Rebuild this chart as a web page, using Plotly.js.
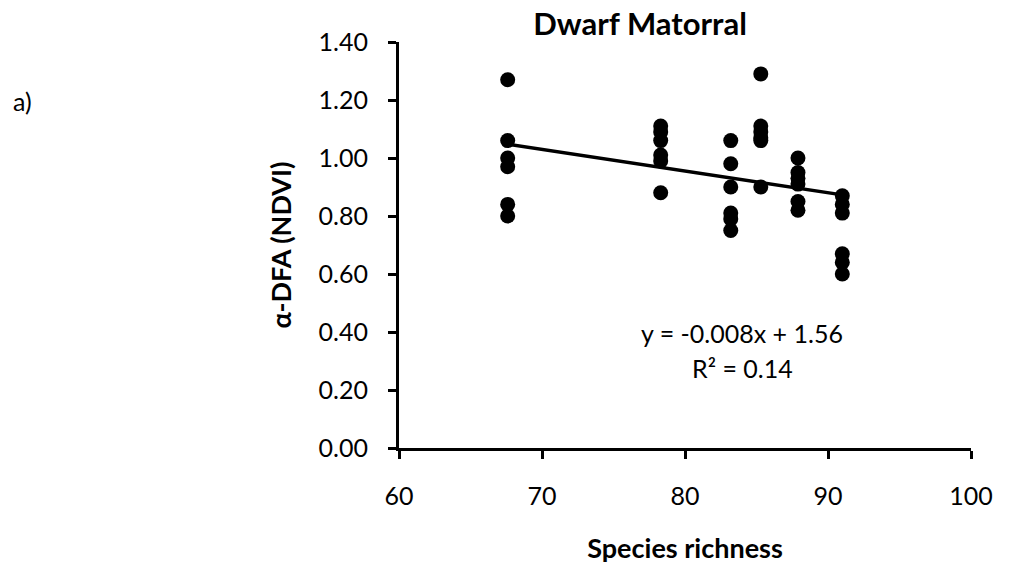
<!DOCTYPE html>
<html>
<head>
<meta charset="utf-8">
<script src="https://cdn.plot.ly/plotly-3.0.1.min.js"></script>
<style>html,body{margin:0;padding:0;background:#fff;}#chart{width:1016px;height:565px;}</style>
</head>
<body>
<div id="chart"></div>
<script>
// Species richness (x) for each plot
const richness = [
  67.6, 67.6, 67.6, 67.6, 67.6, 67.6,
  78.3, 78.3, 78.3, 78.3, 78.3, 78.3,
  83.2, 83.2, 83.2, 83.2, 83.2, 83.2,
  85.3, 85.3, 85.3, 85.3, 85.3, 85.3,
  87.9, 87.9, 87.9, 87.9, 87.9, 87.9,
  91.0, 91.0, 91.0, 91.0, 91.0, 91.0
];
// alpha-DFA (NDVI) values
const alphaDFA = [
  1.27, 1.06, 1.00, 0.97, 0.84, 0.80,
  1.11, 1.09, 1.06, 1.01, 0.99, 0.88,
  1.06, 0.98, 0.90, 0.81, 0.79, 0.75,
  1.29, 1.11, 1.09, 1.07, 1.06, 0.90,
  1.00, 0.95, 0.93, 0.91, 0.85, 0.82,
  0.87, 0.84, 0.81, 0.67, 0.64, 0.60
];
const xTicks = [60, 70, 80, 90, 100];
const yTicks = [0, 0.2, 0.4, 0.6, 0.8, 1.0, 1.2, 1.4];
const equationText = 'y = -0.008x + 1.56';
const r2Text = 'R² = 0.14';
const chartTitle = 'Dwarf Matorral';
const xTitle = 'Species richness';
const yTitle = 'α-DFA (NDVI)';
const panelLabel = 'a)';

// least squares fit from the data
const n = richness.length;
const mx = richness.reduce((a,b)=>a+b,0)/n;
const my = alphaDFA.reduce((a,b)=>a+b,0)/n;
let sxy = 0, sxx = 0;
for (let i=0;i<n;i++){ sxy += (richness[i]-mx)*(alphaDFA[i]-my); sxx += (richness[i]-mx)**2; }
const slope = sxy/sxx, intercept = my - slope*mx;
const xMin = Math.min(...richness), xMax = Math.max(...richness);
const fitX = [xMin, xMax];
const fitY = fitX.map(v => intercept + slope*v);

const FONT = 'Lato, "Open Sans", sans-serif';
const traces = [
  {x: richness, y: alphaDFA, type:'scatter', mode:'markers',
   marker:{color:'#000', size:15}, showlegend:false, hoverinfo:'x+y'},
  {x: fitX, y: fitY, type:'scatter', mode:'lines',
   line:{color:'#000', width:3.5}, showlegend:false, hoverinfo:'skip'}
];
const layout = {
  width:1016, height:565,
  margin:{l:399, r:45, t:42, b:117},
  paper_bgcolor:'#fff', plot_bgcolor:'#fff',
  font:{family:FONT, color:'#000', size:25},
  showlegend:false,
  title:{text:'<b>'+chartTitle+'</b>', x:0.63, xanchor:'center', y:0.957, yanchor:'middle',
         font:{family:FONT, size:31, color:'#000'}},
  xaxis:{range:[60,100], tickvals:xTicks, ticktext:xTicks.map(String),
         showgrid:false, zeroline:false, showline:true, linecolor:'#000', linewidth:3,
         ticks:'outside', ticklen:8, tickwidth:3, tickcolor:'#000',
         ticklabelstandoff:16, tickfont:{size:25},
         title:{text:'<b>'+xTitle+'</b>', standoff:31, font:{size:27}}},
  yaxis:{range:[0,1.4], tickvals:yTicks, ticktext:yTicks.map(v=>v.toFixed(2)),
         showgrid:false, zeroline:false, showline:true, linecolor:'#000', linewidth:3,
         ticks:'outside', ticklen:8, tickwidth:3, tickcolor:'#000',
         ticklabelstandoff:15, tickfont:{size:25},
         title:{text:'<b>'+yTitle+'</b>', standoff:20, font:{size:27}}},
  annotations:[
    {xref:'x', yref:'y', x:84.0, y:0.397, text:equationText, showarrow:false,
     font:{size:25}, xanchor:'center', yanchor:'middle'},
    {xref:'x', yref:'y', x:84.0, y:0.276, text:r2Text, showarrow:false,
     font:{size:25}, xanchor:'center', yanchor:'middle'},
    {xref:'paper', yref:'paper', x:-0.659, y:0.855, text:panelLabel, showarrow:false,
     font:{size:25}, xanchor:'center', yanchor:'middle'}
  ]
};
Plotly.newPlot('chart', traces, layout, {displayModeBar:false, staticPlot:true});
</script>
</body>
</html>
